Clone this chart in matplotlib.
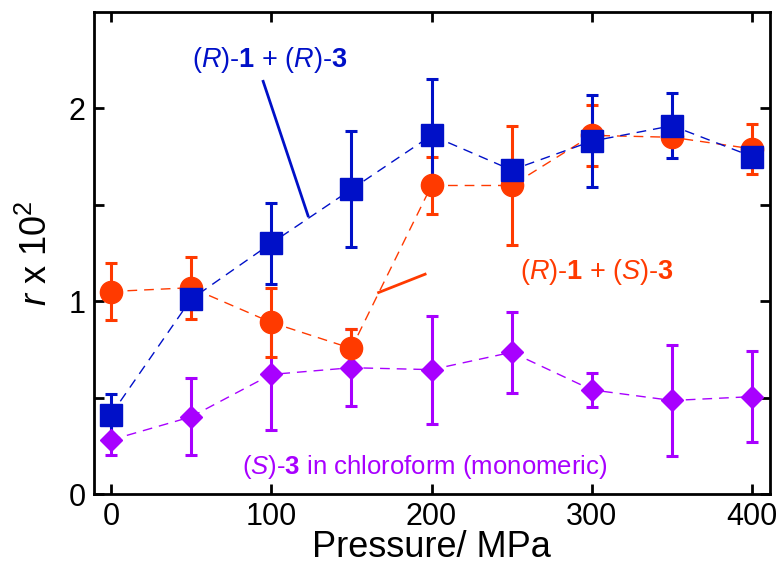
import matplotlib
matplotlib.use("Agg")
import matplotlib.pyplot as plt

fam = "Liberation Sans"
plt.rcParams['font.family'] = [fam, 'DejaVu Sans']
plt.rcParams['mathtext.fontset'] = 'custom'
plt.rcParams['mathtext.rm'] = fam
plt.rcParams['mathtext.it'] = fam + ':italic'
plt.rcParams['mathtext.bf'] = fam + ':bold'

# data
pressure = [0, 50, 100, 150, 200, 250, 300, 350, 400]

rr = [0.41, 1.01, 1.30, 1.58, 1.86, 1.68, 1.83, 1.91, 1.75]
rr_err = [0.11, 0.04, 0.21, 0.30, 0.29, 0.05, 0.24, 0.17, 0.04]

rs = [1.05, 1.07, 0.89, 0.755, 1.60, 1.60, 1.86, 1.85, 1.79]
rs_err = [0.15, 0.16, 0.18, 0.10, 0.15, 0.31, 0.16, 0.04, 0.13]

s3 = [0.28, 0.40, 0.62, 0.655, 0.645, 0.735, 0.54, 0.485, 0.505]
s3_err = [0.08, 0.20, 0.29, 0.20, 0.28, 0.21, 0.09, 0.29, 0.235]

blue = '#0010C8'
orange = '#FF3A00'
purple = '#A800FF'

fig = plt.figure(figsize=(7.8, 5.69), dpi=100)
ax = fig.add_axes([0.1205, 0.1318, 0.8665, 0.8472])

def series(y, e, c, m, ms, z):
    ax.errorbar(pressure, y, yerr=e, fmt='none', ecolor=c, elinewidth=2.2,
                capsize=4.5, capthick=2.2, zorder=z)
    ax.plot(pressure, y, color=c, lw=1, dashes=(7, 5), zorder=z + 0.1)
    ax.plot(pressure, y, ls='none', marker=m, ms=ms, color=c, mec=c, zorder=z + 5)

series(s3, s3_err, purple, 'D', 11.5, 1)
series(rs, rs_err, orange, 'o', 16, 2)
series(rr, rr_err, blue, 's', 16, 3)

ax.set_xlim(-10.5, 411)
ax.set_ylim(0, 2.5)
ax.set_xticks([0, 100, 200, 300, 400])
ax.set_yticks([0, 1, 2])
ax.set_yticks([0.5, 1.5], minor=True)
ax.tick_params(which='both', direction='in', top=True, right=True,
               length=7, width=2, labelsize=22, pad=6)
ax.tick_params(which='minor', length=7)
for s in ax.spines.values():
    s.set_linewidth(2)

ax.set_xlabel('Pressure/ MPa', fontsize=26, labelpad=-2)
ax.set_ylabel('$\\mathit{r}$ x 10$^2$', fontsize=26, labelpad=10)

ax.text(99, 2.25, '($\\mathit{R}$)-$\\mathbf{1}$ + ($\\mathit{R}$)-$\\mathbf{3}$',
        color=blue, fontsize=19.5, ha='center', va='center')
ax.plot([95, 123], [2.14, 1.443], color=blue, lw=2)

ax.text(303, 1.15, '($\\mathit{R}$)-$\\mathbf{1}$ + ($\\mathit{S}$)-$\\mathbf{3}$',
        color=orange, fontsize=19.5, ha='center', va='center')
ax.plot([167, 196], [1.045, 1.14], color=orange, lw=2)

ax.text(196, 0.14, '($\\mathit{S}$)-$\\mathbf{3}$ in chloroform (monomeric)',
        color=purple, fontsize=18.5, ha='center', va='center')

fig.savefig('out.png', dpi=100)
